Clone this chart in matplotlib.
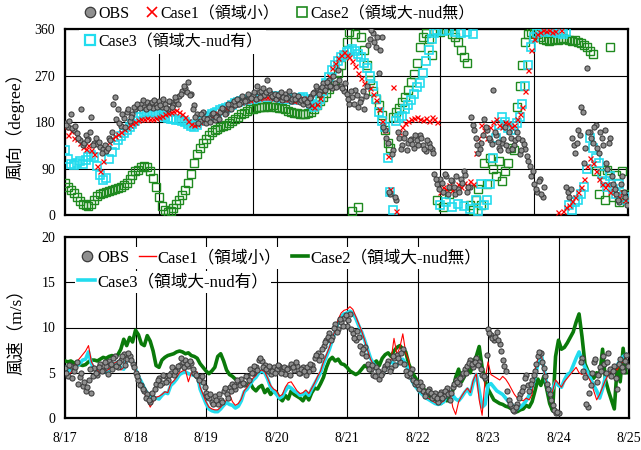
import numpy as np
import matplotlib
matplotlib.use("Agg")
import matplotlib.pyplot as plt
from matplotlib.lines import Line2D

nan = np.nan
plt.rcParams['font.family'] = ['Liberation Serif', 'Noto Sans CJK JP']

date_labels = ['8/17', '8/18', '8/19', '8/20', '8/21', '8/22', '8/23', '8/24', '8/25']

# ---------------- wind direction (degree), hourly from 8/17 00:00 ----------------
obs_dir = (
    [178, 170, 195, 165, 158, 145, 135, 155, 148, 190, 140, 138, 132, 128, 124, 150, 160, 228, 205, 172, 188, 200, 182, 196] +
    [205, 212, 215, 210, 218, 212, 208, 214, 220, 210, 215, 205, 218, 212, 222, 230, 240, 245, 258, 235, 212, 195, 182, 200] +
    [178, 188, 195, 183, 192, 200, 205, 198, 210, 215, 212, 220, 218, 225, 222, 228, 232, 225, 238, 240, 232, 262, 236, 228] +
    [225, 230, 222, 235, 228, 220, 232, 226, 218, 214, 220, 212, 230, 238, 245, 240, 255, 248, 262, 245, 255, 280, 250, 240] +
    [235, 215, 228, 242, 210, 225, 205, 250, 340, 352, 325, 274, 345, 165, 140, 40, 125, 30, 150, 135, 158, 140, 148, 130] +
    [145, 155, 135, 123, 140, 128, 80, 60, 70, 45, 75, 55, 65, 40, 50, 70, 85, 45, 55, 175, 150, 120, 140, 185] +
    [165, 145, 242, 155, 130, 140, 170, 125, 150, 135, 160, 118, 145, 128, 105, 75, 60, 45, 70, 35, nan, nan, nan, nan] +
    [nan, nan, nan, 55, 35, 150, 120, 165, 210, 100, 285, 160, 140, 175, 120, 150, 165, 90, 150, 60, 40, 25, 75, 35]
)
# observations at half past each hour
obs_dir_30 = (
    [175, 182, 168, 172, 150, 205, 140, 145, 160, 135, 150, 142, 120, 135, 130, 145, 215, 185, 178, 195, 170, 205, 190, 210] +
    [215, 208, 222, 205, 210, 218, 222, 210, 212, 225, 208, 220, 210, 228, 215, 235, 250, 238, 232, 205, 190, 178, 195, 188] +
    [185, 180, 198, 190, 186, 208, 195, 215, 205, 220, 225, 214, 230, 220, 235, 226, 238, 250, 228, 245, 238, 242, 230, 235] +
    [232, 238, 228, 226, 240, 225, 224, 230, 222, 225, 218, 226, 236, 250, 235, 248, 242, 258, 250, 270, 248, 262, 245, 255] +
    [225, 240, 215, 232, 218, 240, 230, 330, 358, 335, 345, 320, 170, 150, 45, 118, 35, 160, 128, 150, 125, 145, 138, 155] +
    [135, 150, 128, 145, 132, 120, 70, 50, 62, 80, 40, 68, 55, 75, 45, 62, 78, 55, 190, 165, 135, 128, 155, 170] +
    [150, 138, 160, 142, 125, 148, 135, 160, 128, 145, 150, 125, 138, 115, 95, 85, 50, 65, 40, 55, nan, nan, nan, nan] +
    [nan, nan, nan, 45, 50, 135, 140, 155, 200, 130, 160, 150, 170, 130, 160, 135, 100, 140, 75, 50, 30, 60, 45, 20]
)
case1_dir = (
    [170, 155, 162, 150, 148, 140, 132, 128, 135, 125, 118, 95, 86, 105, 130, 142, 150, 152, 156, 160, 166, 170, 174, 178] +
    [180, 183, 185, 186, 187, 185, 186, 188, 190, 192, 195, 198, 200, 202, 203, 200, 196, 190, 182, 176, 174, 176, 180, 184] +
    [186, 188, 192, 195, 198, 202, 205, 207, 210, 212, 215, 217, 219, 221, 222, 223, 225, 226, 227, 228, 229, 229, 228, 227] +
    [228, 227, 225, 224, 225, 223, 221, 223, 225, 226, 224, 220, 213, 210, 214, 226, 240, 256, 270, 284, 295, 303, 310, 316] +
    [310, 305, 298, 288, 275, 265, 255, 250, 245, 235, 222, 205, 182, 165, 115, 50, 248, 8, 160, 170, 178, 182, 185, 188] +
    [190, 186, 184, 188, 182, 190, 185, 180, 45, 55, 50, 58, 48, 52, 60, 55, 62, 58, 65, 60, 120, 150, 175, 165] +
    [150, 170, 180, 185, 175, 170, 180, 178, 170, 175, 185, 195, 210, 240, 280, 320, 340, 350, 355, 358, 356, 358, 355, 357] +
    [5, 358, 8, 15, 20, 28, 35, 45, 55, 70, 95, 110, 100, 85, 70, 60, 55, 60, 45, 55, 40, 35, 45, 30]
)
case2_dir = (
    [62, 55, 48, 42, 35, 28, 22, 20, 18, 22, 30, 36, 40, 42, 45, 46, 48, 50, 52, 55, 58, 62, 70, 78] +
    [85, 88, 92, 94, 92, 85, 72, 55, 35, 18, 10, 6, 8, 14, 22, 30, 38, 48, 62, 80, 100, 118, 130, 140] +
    [148, 155, 160, 164, 167, 170, 172, 175, 178, 182, 186, 190, 195, 198, 202, 205, 206, 208, 209, 210, 210, 211, 210, 212] +
    [210, 208, 207, 205, 202, 200, 198, 197, 196, 195, 196, 198, 200, 205, 212, 220, 228, 236, 244, 252, 262, 275, 290, 310] +
    [335, 355, 8, 350, 15, 345, 320, 290, 262, 240, 225, 212, 194, 165, 140, 130, 190, 200, 208, 218, 228, 242, 258, 272] +
    [295, 325, 345, 352, 340, 310, 358, 30, 355, 15, 358, 40, 350, 345, 335, 320, 305, 295, 20, 10, 30, 50, 20, 100] +
    [60, 110, 90, 75, 105, 65, 85, 100, 130, 125, 210, 250, 290, 335, 350, 355, 352, 350, 345, 340, 338, 336, 338, 340] +
    [338, 340, 342, 340, 338, 336, 338, 335, 332, 330, 325, 318, 312, 85, 40, 80, 30, 88, 326, 35, 78, 25, 85, 40]
)
case3_dir = (
    [125, 108, 98, 96, 100, 104, 98, 106, 112, 116, 112, 95, 78, 68, 72, 108, 122, 135, 145, 152, 158, 164, 170, 176] +
    [182, 190, 195, 198, 200, 200, 198, 197, 195, 192, 190, 188, 186, 185, 184, 183, 182, 180, 176, 172, 170, 174, 182, 188] +
    [190, 192, 195, 197, 200, 203, 206, 208, 210, 213, 216, 218, 220, 222, 222, 224, 225, 226, 228, 228, 230, 230, 229, 228] +
    [230, 228, 226, 225, 226, 224, 222, 224, 226, 228, 225, 222, 215, 210, 212, 225, 240, 255, 268, 280, 290, 298, 305, 310] +
    [315, 318, 322, 318, 312, 305, 295, 285, 270, 250, 225, 200, 182, 170, 110, 45, 10, 182, 188, 192, 205, 212, 222, 235] +
    [248, 255, 275, 298, 320, 340, 352, 358, 20, 356, 25, 358, 15, 355, 22, 352, 18, 355, 12, 350, 30, 8, 60, 20] +
    [30, 60, 110, 150, 175, 190, 180, 168, 165, 172, 178, 190, 215, 250, 290, 325, 345, 352, 356, 358, 355, 358, 354, 356] +
    [352, 356, 350, 354, 20, 10, 25, 30, 40, 55, 90, 150, 130, 110, 100, 80, 65, 55, 75, 50, 40, 60, 30, 35]
)

# ---------------- wind speed (m/s), hourly ----------------
obs_spd = (
    [5.5, 4.6, 5.8, 5.2, 6.2, 4.5, 3.5, 3.0, 4.2, 2.8, 5.5, 4.8, 6.0, 5.3, 5.8, 6.3, 5.4, 6.9, 5.6, 6.4, 7.1, 6.5, 6.9, 6.0] +
    [5.0, 4.2, 3.6, 3.0, 2.6, 1.8, 2.2, 3.8, 4.4, 3.9, 4.6, 4.2, 5.0, 4.7, 5.4, 5.9, 6.2, 6.4, 5.8, 6.1, 5.0, 4.6, 4.4, 4.0] +
    [2.8, 2.2, 1.8, 2.4, 1.5, 2.0, 3.0, 2.6, 3.4, 3.8, 3.2, 4.0, 4.3, 3.8, 4.6, 5.4, 5.0, 5.6, 6.4, 6.3, 5.9, 5.2, 4.9, 5.6] +
    [5.4, 5.8, 5.2, 4.9, 5.5, 6.0, 5.3, 5.7, 5.0, 5.6, 4.7, 5.2, 5.9, 6.6, 7.2, 6.8, 8.0, 8.6, 9.4, 9.0, 10.4, 9.8, 10.6, 11.0] +
    [10.2, 11.5, 9.4, 8.6, 9.0, 7.2, 7.8, 6.0, 5.4, 4.8, 5.6, 4.3, 5.0, 5.8, 6.3, 5.5, 6.6, 7.0, 6.2, 7.6, 5.2, 4.6, 5.4, 3.8] +
    [3.6, 4.0, 3.0, 2.6, 3.2, 2.2, 2.8, 1.8, 2.9, 2.4, 3.3, 2.0, 3.4, 4.2, 3.8, 4.6, 5.4, 5.8, 6.4, 5.6, 6.6, 6.2, 4.8, 4.4] +
    [9.8, 9.2, 8.6, 9.5, 8.2, 6.4, 5.2, 2.0, 1.2, 0.8, 1.6, 2.6, 3.4, 4.8, 3.0, 4.2, 5.2, 6.8, 7.2, 5.5, 3.8, 2.6, 1.4, 0.6] +
    [0.5, nan, nan, nan, nan, nan, nan, nan, 6.6, 4.5, 1.2, 3.6, 6.2, 4.0, 5.6, 6.8, 5.0, 7.2, 4.6, 5.8, 3.2, 6.5, 5.2, 7.0]
)
obs_spd_30 = (
    [5.0, 5.9, 4.4, 5.6, 3.8, 5.0, 4.0, 3.4, 5.4, 4.6, 5.0, 5.6, 5.2, 6.2, 4.9, 6.0, 6.6, 5.8, 6.2, 6.8, 5.9, 7.2, 6.4, 5.6] +
    [4.6, 3.6, 3.2, 2.2, 2.0, 2.8, 3.2, 4.2, 3.6, 4.8, 4.0, 4.8, 5.6, 5.2, 5.8, 6.6, 5.6, 6.0, 6.3, 5.4, 4.8, 4.2, 4.6, 3.4] +
    [2.4, 2.6, 1.6, 2.0, 2.6, 1.8, 3.3, 2.2, 3.0, 3.5, 4.2, 3.6, 3.9, 4.6, 4.2, 5.0, 5.8, 5.3, 6.6, 5.6, 5.4, 5.8, 5.2, 5.0] +
    [5.9, 5.0, 5.6, 5.4, 4.8, 5.6, 6.2, 5.0, 5.4, 5.2, 5.6, 6.0, 5.4, 7.0, 6.4, 7.6, 8.4, 9.0, 8.6, 10.0, 9.5, 10.9, 10.2, 11.4] +
    [10.8, 9.8, 8.8, 9.6, 8.0, 7.6, 6.8, 5.4, 5.9, 4.6, 5.2, 4.8, 5.4, 6.0, 5.2, 6.8, 5.9, 6.6, 7.2, 6.0, 4.8, 5.0, 4.2, 4.0] +
    [3.2, 3.5, 2.4, 3.0, 2.8, 2.4, 2.2, 2.6, 2.2, 3.0, 2.6, 2.8, 3.8, 4.0, 4.4, 5.0, 5.0, 6.1, 6.0, 6.2, 5.9, 5.4, 4.6, 7.0] +
    [9.4, 8.8, 9.0, 8.6, 7.4, 5.8, 3.0, 1.6, 0.9, 1.2, 2.2, 3.0, 4.4, 3.6, 3.8, 4.8, 6.0, 7.3, 6.2, 4.6, 3.2, 2.0, 0.9, 0.7] +
    [nan, nan, nan, nan, nan, nan, nan, 6.2, 5.2, 1.6, 2.8, 5.0, 6.5, 4.8, 5.2, 6.0, 6.2, 5.4, 5.2, 4.4, 6.0, 5.6, 6.3, 5.8]
)
case1_spd = (
    [5.2, 4.8, 5.0, 5.6, 6.2, 6.6, 7.0, 7.4, 8.0, 6.2, 5.6, 5.3, 5.0, 5.4, 5.2, 5.4, 5.9, 6.1, 6.3, 5.3, 5.6, 6.5, 6.8, 6.3] +
    [5.2, 4.4, 3.6, 2.8, 2.0, 1.2, 1.8, 2.3, 2.4, 2.6, 2.9, 2.8, 3.8, 4.1, 4.5, 5.0, 5.2, 5.3, 4.0, 5.0, 4.9, 5.1, 3.4, 2.6] +
    [1.8, 1.2, 1.0, 0.9, 0.9, 1.2, 1.6, 2.0, 2.6, 1.8, 1.4, 1.6, 2.1, 3.0, 3.4, 3.9, 4.4, 4.7, 5.2, 5.3, 5.1, 4.4, 3.6, 3.2] +
    [3.0, 2.4, 2.6, 3.4, 3.9, 4.0, 3.5, 3.0, 2.7, 2.8, 3.1, 2.7, 3.3, 3.9, 4.6, 5.2, 6.2, 7.0, 7.8, 8.8, 9.8, 10.9, 11.6, 11.9] +
    [12.0, 12.3, 12.0, 11.2, 10.4, 9.6, 8.6, 7.5, 6.5, 5.9, 5.4, 5.0, 4.9, 5.6, 6.2, 6.4, 8.8, 7.0, 7.8, 9.3, 7.2, 6.4, 4.4, 3.8] +
    [3.4, 3.0, 2.6, 2.3, 2.1, 1.9, 1.7, 1.6, 1.7, 1.9, 2.7, 3.0, 1.2, 0.4, 1.8, 2.4, 2.9, 3.3, 2.8, 4.2, 4.9, 2.0, 0.3, 4.2] +
    [6.2, 4.8, 4.6, 4.4, 4.2, 4.6, 4.3, 3.8, 3.2, 2.6, 2.2, 2.0, 1.9, 2.2, 2.0, 2.6, 5.4, 6.6, 7.4, 5.2, 3.8, 2.4, 3.0, 4.2] +
    [3.8, 3.4, 4.0, 4.4, 4.8, 5.2, 5.6, 5.0, 4.8, 5.2, 4.6, 4.0, 3.0, 2.0, 2.6, 3.4, 4.2, 4.8, 5.2, 5.6, 5.3, 6.0, 6.2, 6.6]
)
case2_spd = (
    [6.3, 6.2, 6.3, 6.1, 6.0, 5.9, 5.8, 5.9, 6.2, 6.4, 6.4, 6.3, 6.5, 6.7, 6.6, 6.8, 6.9, 6.7, 7.0, 7.6, 8.7, 8.0, 8.9, 8.4] +
    [9.7, 9.2, 8.2, 8.0, 9.1, 8.5, 7.4, 5.8, 5.6, 6.4, 6.7, 6.9, 7.0, 7.1, 7.3, 7.4, 7.3, 7.1, 7.2, 6.9, 6.8, 6.6, 6.0, 5.6] +
    [5.2, 4.9, 5.2, 5.6, 6.8, 7.1, 6.3, 5.3, 4.8, 4.6, 4.3, 4.1, 4.0, 3.8, 3.5, 3.9, 3.3, 3.0, 3.4, 3.6, 2.8, 3.2, 2.6, 3.0] +
    [2.8, 2.2, 1.9, 2.5, 2.1, 3.0, 2.6, 2.4, 2.2, 1.9, 2.5, 2.0, 2.8, 3.3, 3.2, 3.8, 4.5, 5.6, 6.4, 6.7, 6.3, 6.5, 6.0, 5.9] +
    [5.6, 5.2, 5.0, 4.8, 5.0, 5.4, 5.8, 5.6, 5.2, 6.0, 6.3, 5.8, 6.6, 7.0, 7.2, 6.8, 7.4, 7.8, 8.0, 7.6, 7.3, 6.0, 5.2, 4.6] +
    [4.1, 3.6, 3.2, 3.0, 2.4, 2.0, 1.8, 2.2, 1.6, 2.5, 1.9, 2.6, 3.0, 4.5, 5.4, 4.0, 4.6, 5.3, 5.0, 6.2, 6.8, 7.9, 5.6, 4.2] +
    [3.2, 2.6, 2.0, 1.8, 1.6, 1.5, 1.3, 1.2, 1.0, 0.8, 0.7, 0.9, 1.0, 1.4, 1.2, 1.8, 3.0, 4.3, 3.6, 4.6, 3.2, 1.6, 0.8, 6.8] +
    [8.6, 7.6, 7.8, 8.3, 8.9, 9.5, 10.6, 11.5, 9.0, 6.0, 5.2, 4.8, 4.4, 5.0, 4.6, 7.6, 4.2, 3.0, 2.0, 1.0, 5.8, 4.0, 7.7, 5.0]
)
case3_spd = (
    [5.6, 5.3, 5.2, 5.5, 5.8, 6.0, 6.4, 6.5, 7.3, 6.0, 5.4, 5.2, 5.1, 5.3, 5.1, 5.2, 5.8, 6.0, 6.2, 5.5, 5.4, 6.4, 6.6, 6.2] +
    [5.4, 4.6, 4.0, 3.3, 2.7, 2.5, 2.3, 2.2, 2.1, 2.5, 2.8, 2.7, 3.6, 3.9, 4.3, 4.8, 5.0, 5.1, 4.9, 4.8, 4.7, 4.9, 3.2, 2.4] +
    [1.6, 1.0, 0.8, 0.7, 0.7, 1.0, 1.4, 1.7, 1.5, 1.4, 1.1, 1.3, 1.9, 2.9, 3.2, 3.7, 4.2, 4.5, 5.0, 5.2, 5.0, 4.3, 3.4, 3.0] +
    [2.6, 2.2, 2.4, 3.0, 3.5, 3.3, 3.0, 2.8, 2.5, 2.6, 2.9, 2.5, 3.2, 3.8, 4.4, 5.0, 6.0, 6.8, 7.6, 8.6, 9.6, 10.6, 11.2, 11.5] +
    [11.6, 11.8, 11.6, 11.0, 10.2, 9.5, 8.6, 7.6, 6.6, 6.0, 5.5, 5.0, 4.8, 5.4, 5.9, 6.2, 6.0, 5.8, 6.3, 6.5, 6.0, 5.2, 4.2, 3.6] +
    [3.2, 2.8, 2.5, 2.2, 2.0, 1.8, 1.6, 1.5, 1.6, 1.8, 2.6, 2.9, 2.5, 2.1, 1.9, 2.3, 2.8, 3.2, 2.6, 4.0, 4.8, 3.0, 1.2, 1.5] +
    [3.6, 3.8, 3.4, 3.0, 2.8, 2.6, 2.2, 1.8, 1.5, 1.2, 1.0, 1.2, 1.5, 1.9, 2.5, 3.4, 4.5, 6.0, 7.3, 5.5, 3.8, 2.6, 3.2, 4.0] +
    [3.6, 3.4, 4.2, 4.8, 5.0, 5.8, 6.6, 7.3, 6.4, 5.6, 5.0, 4.3, 3.6, 3.0, 2.2, 3.2, 4.6, 5.0, 5.4, 5.6, 5.8, 6.4, 6.8, 7.0]
)

series = [obs_dir, obs_dir_30, case1_dir, case2_dir, case3_dir,
          obs_spd, obs_spd_30, case1_spd, case2_spd, case3_spd]
assert all(len(s) == 192 for s in series), [len(s) for s in series]
t = np.arange(192) / 24.0          # days since 8/17 00:00
t30 = t + 0.5 / 24.0               # half past each hour

C_OBS_F, C_OBS_E = '#8f8f8f', '#3a3a3a'
C1, C2, C3 = '#ff0000', '#1f8a1f', '#22dcee'
C2L = '#0a7a0a'
lab_obs = 'OBS'
lab1 = 'Case1（領域小）'
lab2 = 'Case2（領域大-nud無）'
lab3 = 'Case3（領域大-nud有）'

fig = plt.figure(figsize=(6.41, 4.50), dpi=100)
ax1 = fig.add_axes([65/641, 1-215/450, 563/641, 186/450])
ax2 = fig.add_axes([65/641, 1-418/450, 564/641, 181/450])

obs_kw = dict(ls='none', marker='o', ms=3.7, mfc=C_OBS_F, mec=C_OBS_E, mew=0.75, zorder=6)

# ---- top panel: direction ----
ax1.plot(t, case2_dir, ls='none', marker='s', ms=5.2, mfc='none', mec=C2, mew=1.0, zorder=3)
ax1.plot(t, case3_dir, ls='none', marker='s', ms=5.2, mfc='none', mec=C3, mew=1.2, zorder=4)
ax1.plot(t, case1_dir, ls='none', marker='x', ms=3.6, mec=C1, mew=0.9, zorder=5)
ax1.plot(t, obs_dir, **obs_kw)
ax1.plot(t30, obs_dir_30, **obs_kw)
ax1.set_xlim(0, 8)
ax1.set_ylim(0, 360)
ax1.set_yticks([0, 90, 180, 270, 360])
ax1.set_xticks(np.arange(0, 8.01, 4/3))
ax1.set_xticklabels([])
ax1.grid(True, color='black', lw=0.8)
ax1.set_axisbelow(True)
ax1.set_ylabel('風向（degree）', fontsize=12.5)
ax1.yaxis.set_label_coords(-0.072, 0.5)

# ---- bottom panel: speed ----
ax2.plot(t, case2_spd, color=C2L, lw=2.6, zorder=3)
ax2.plot(t, case3_spd, color=C3, lw=2.6, zorder=4)
ax2.plot(t, case1_spd, color=C1, lw=0.8, zorder=5)
ax2.plot(t, obs_spd, **obs_kw)
ax2.plot(t30, obs_spd_30, **obs_kw)
ax2.set_xlim(0, 8)
ax2.set_ylim(0, 20)
ax2.set_yticks([0, 5, 10, 15, 20])
ax2.set_xticks(np.arange(9))
ax2.set_xticklabels(date_labels)
ax2.grid(True, color='black', lw=0.8)
ax2.set_axisbelow(True)
ax2.set_ylabel('風速（m/s）', fontsize=12.5)
ax2.yaxis.set_label_coords(-0.072, 0.5)

for ax in (ax1, ax2):
    for s in ax.spines.values():
        s.set_linewidth(1.6)
    ax.tick_params(axis='y', length=0, labelsize=10, pad=7)
    ax.tick_params(axis='x', length=0, labelsize=10, pad=10)

# ---- legends ----
h_obs = Line2D([], [], ls='none', marker='o', ms=7.5, mfc=C_OBS_F, mec=C_OBS_E, mew=0.9)
h_c1 = Line2D([], [], ls='none', marker='x', ms=7, mec=C1, mew=1.2)
h_c2 = Line2D([], [], ls='none', marker='s', ms=7, mfc='none', mec=C2, mew=1.2)
h_c3 = Line2D([], [], ls='none', marker='s', ms=7, mfc='none', mec=C3, mew=1.6)

fig.legend([h_obs, h_c1, h_c2], [lab_obs, lab1, lab2], ncol=3, loc='center left',
           bbox_to_anchor=(83/641, 1-14/450), frameon=False, fontsize=11.5,
           handlelength=0.85, handletextpad=0.1, columnspacing=1.0,
           borderpad=0.0, borderaxespad=0.0)
fig.legend([h_c3], [lab3], loc='center left', bbox_to_anchor=(79/641, 1-42/450),
           frameon=True, facecolor='white', edgecolor='none', framealpha=1.0,
           fontsize=11.5, handlelength=0.85, handletextpad=0.1,
           borderpad=0.25, borderaxespad=0.0, fancybox=False)

l_obs = Line2D([], [], ls='none', marker='o', ms=7.5, mfc=C_OBS_F, mec=C_OBS_E, mew=0.9)
l_c1 = Line2D([], [], color=C1, lw=1.0)
l_c2 = Line2D([], [], color=C2L, lw=2.6)
l_c3 = Line2D([], [], color=C3, lw=2.6)
fig.legend([l_obs, l_c1, l_c2], [lab_obs, lab1, lab2], ncol=3, loc='center left',
           bbox_to_anchor=(75/641, 1-258/450), frameon=True, facecolor='white',
           edgecolor='none', framealpha=1.0, fontsize=12,
           handlelength=1.0, handletextpad=0.12, columnspacing=0.6,
           borderpad=0.2, borderaxespad=0.0, fancybox=False)
fig.legend([l_c3], [lab3], loc='center left', bbox_to_anchor=(75/641, 1-282/450),
           frameon=True, facecolor='white', edgecolor='none', framealpha=1.0,
           fontsize=12, handlelength=1.0, handletextpad=0.12,
           borderpad=0.2, borderaxespad=0.0, fancybox=False)

fig.savefig('out.png', dpi=100, facecolor='white')
